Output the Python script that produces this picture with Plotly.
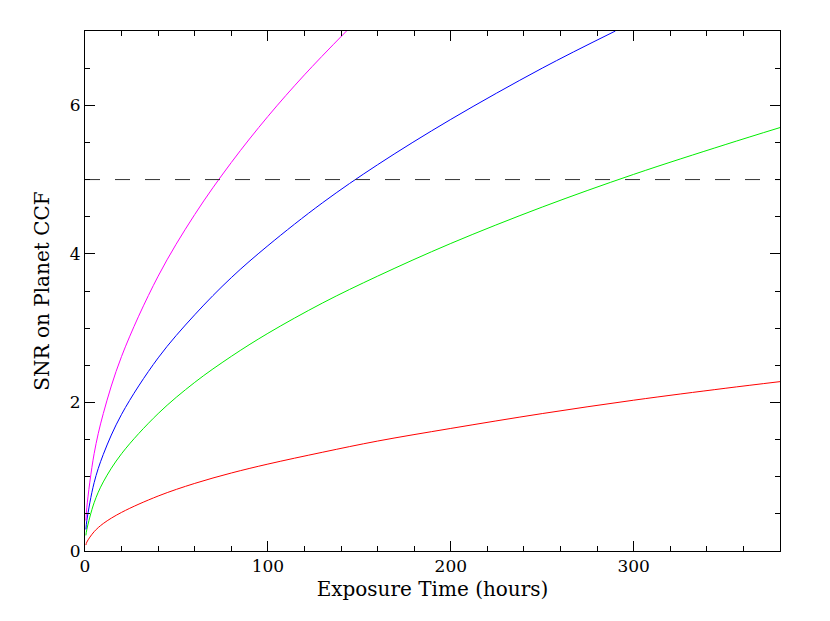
import plotly.graph_objects as go

# exposure time (hours) sample points
t = [0.5, 1, 5, 10, 20, 40, 60, 80, 100, 130, 160, 200, 250, 300, 350, 380]
snr_green = [0.21, 0.29, 0.65, 0.93, 1.31, 1.85, 2.27, 2.62, 2.93, 3.34, 3.70, 4.14, 4.63, 5.07, 5.47, 5.70]
snr_red = [0.08, 0.12, 0.26, 0.37, 0.52, 0.74, 0.91, 1.05, 1.17, 1.33, 1.48, 1.65, 1.85, 2.03, 2.19, 2.28]
t_blue = [0.5, 1, 5, 10, 20, 40, 60, 80, 100, 130, 160, 200, 250, 290]
snr_blue = [0.29, 0.41, 0.92, 1.30, 1.84, 2.60, 3.18, 3.68, 4.11, 4.69, 5.20, 5.81, 6.50, 7.00]
t_mag = [0.5, 1, 5, 10, 20, 40, 60, 80, 100, 120, 143]
snr_mag = [0.41, 0.59, 1.31, 1.85, 2.62, 3.70, 4.53, 5.23, 5.85, 6.41, 7.00]
threshold = 5

fig = go.Figure()
fig.add_trace(go.Scatter(x=t, y=snr_red, mode="lines", line=dict(color="red", width=1, shape="spline")))
fig.add_trace(go.Scatter(x=t, y=snr_green, mode="lines", line=dict(color="#00ee00", width=1, shape="spline")))
fig.add_trace(go.Scatter(x=t_blue, y=snr_blue, mode="lines", line=dict(color="blue", width=1, shape="spline")))
fig.add_trace(go.Scatter(x=t_mag, y=snr_mag, mode="lines", line=dict(color="magenta", width=1, shape="spline")))
fig.add_trace(go.Scatter(x=[0, 380], y=[threshold, threshold], mode="lines",
                         line=dict(color="#333333", width=1, dash="longdash")))

axis = dict(showgrid=False, zeroline=False, showline=True, linecolor="black", linewidth=1,
            mirror="allticks", ticks="inside", ticklen=10, tickcolor="black",
            tickfont=dict(size=17))
fig.update_xaxes(**axis, range=[0, 380], dtick=100,
                 title=dict(text="Exposure Time (hours)", standoff=6),
                 minor=dict(ticks="inside", ticklen=5, dtick=20, tickcolor="black"))
fig.update_yaxes(**axis, range=[0, 7], dtick=2,
                 title=dict(text="SNR on Planet CCF", standoff=14),
                 minor=dict(ticks="inside", ticklen=5, dtick=0.5, tickcolor="black"))
fig.update_layout(width=830, height=621, showlegend=False, plot_bgcolor="white",
                  paper_bgcolor="white",
                  font=dict(family="DejaVu Serif", size=17, color="black"),
                  margin=dict(l=77, r=58, t=23, b=78))
fig.write_html("out.html")
